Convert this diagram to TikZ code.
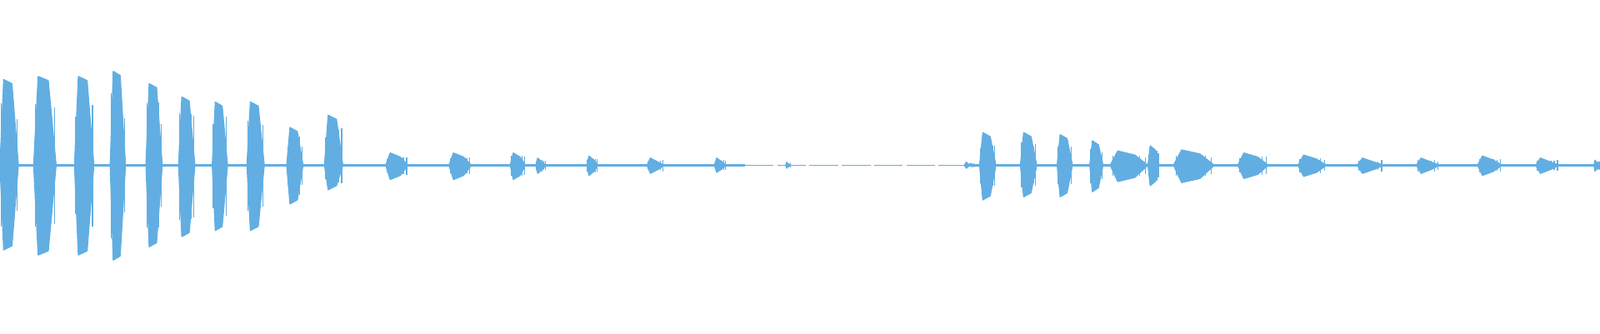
\documentclass[tikz,border=0pt]{standalone}
\begin{document}
\begin{tikzpicture}[x=0.01cm,y=-0.01cm,
    wave/.style={fill=wavec,draw=wavec,line width=0.3pt,line join=round},
    base/.style={draw=wavec,line width=0.6pt}]
  \definecolor{wavec}{RGB}{98,174,226}
  \useasboundingbox (0,0) rectangle (1568,327);
  % zero line
  \draw[base] (0,162) -- (730,162);
  \draw[base] (945,162) -- (1568,162);
  \draw[base,line width=0.4pt,dash pattern=on 8pt off 1pt] (730,162) -- (945,162);
  % bursts: x1/x2/top/bottom
  \foreach \xa/\xb/\yt/\yb in {
      0/18/78/245, 33/55/75/250, 73/92/75/250, 108/123/70/255,
      143/159/82/242, 175/191/95/232, 208/223/100/226, 242/259/100/226,
      281/297/125/200, 318/336/113/186, 378/400/150/176, 440/462/150/176,
      500/515/150/176, 525/535/155/170, 575/586/153/172, 634/651/155/170,
      700/712/155/169, 770/775/159/165, 945/955/159/165, 960/976/130/196,
      1000/1016/130/193, 1036/1051/132/193, 1068/1081/138/188, 1088/1125/148/178,
      1125/1136/143/182, 1150/1190/147/179, 1213/1243/150/175, 1272/1300/152/173,
      1330/1356/155/170, 1388/1411/155/170, 1448/1472/153/172, 1505/1528/155/170,
      1562/1568/157/168} {
    \pgfmathsetmacro{\xc}{\xa+0.2*(\xb-\xa)}
    \pgfmathsetmacro{\xd}{\xb-0.35*(\xb-\xa)}
    \fill[wave] (\xa,162) -- (\xc,\yt) -- (\xd,\yt+4) -- (\xb,162)
      -- (\xd,\yb-4) -- (\xc,\yb) -- cycle;
    \foreach \k in {0,...,6} {
      \pgfmathsetmacro{\xx}{\xa+(\k+0.5)*(\xb-\xa)/7}
      \pgfmathsetmacro{\hh}{0.35+0.2*rnd}
      \draw[wave] (\xx,{162-\hh*(162-\yt)*1.4}) -- (\xx,{162+\hh*(\yb-162)*1.4});
    }
  }
\end{tikzpicture}
\end{document}
